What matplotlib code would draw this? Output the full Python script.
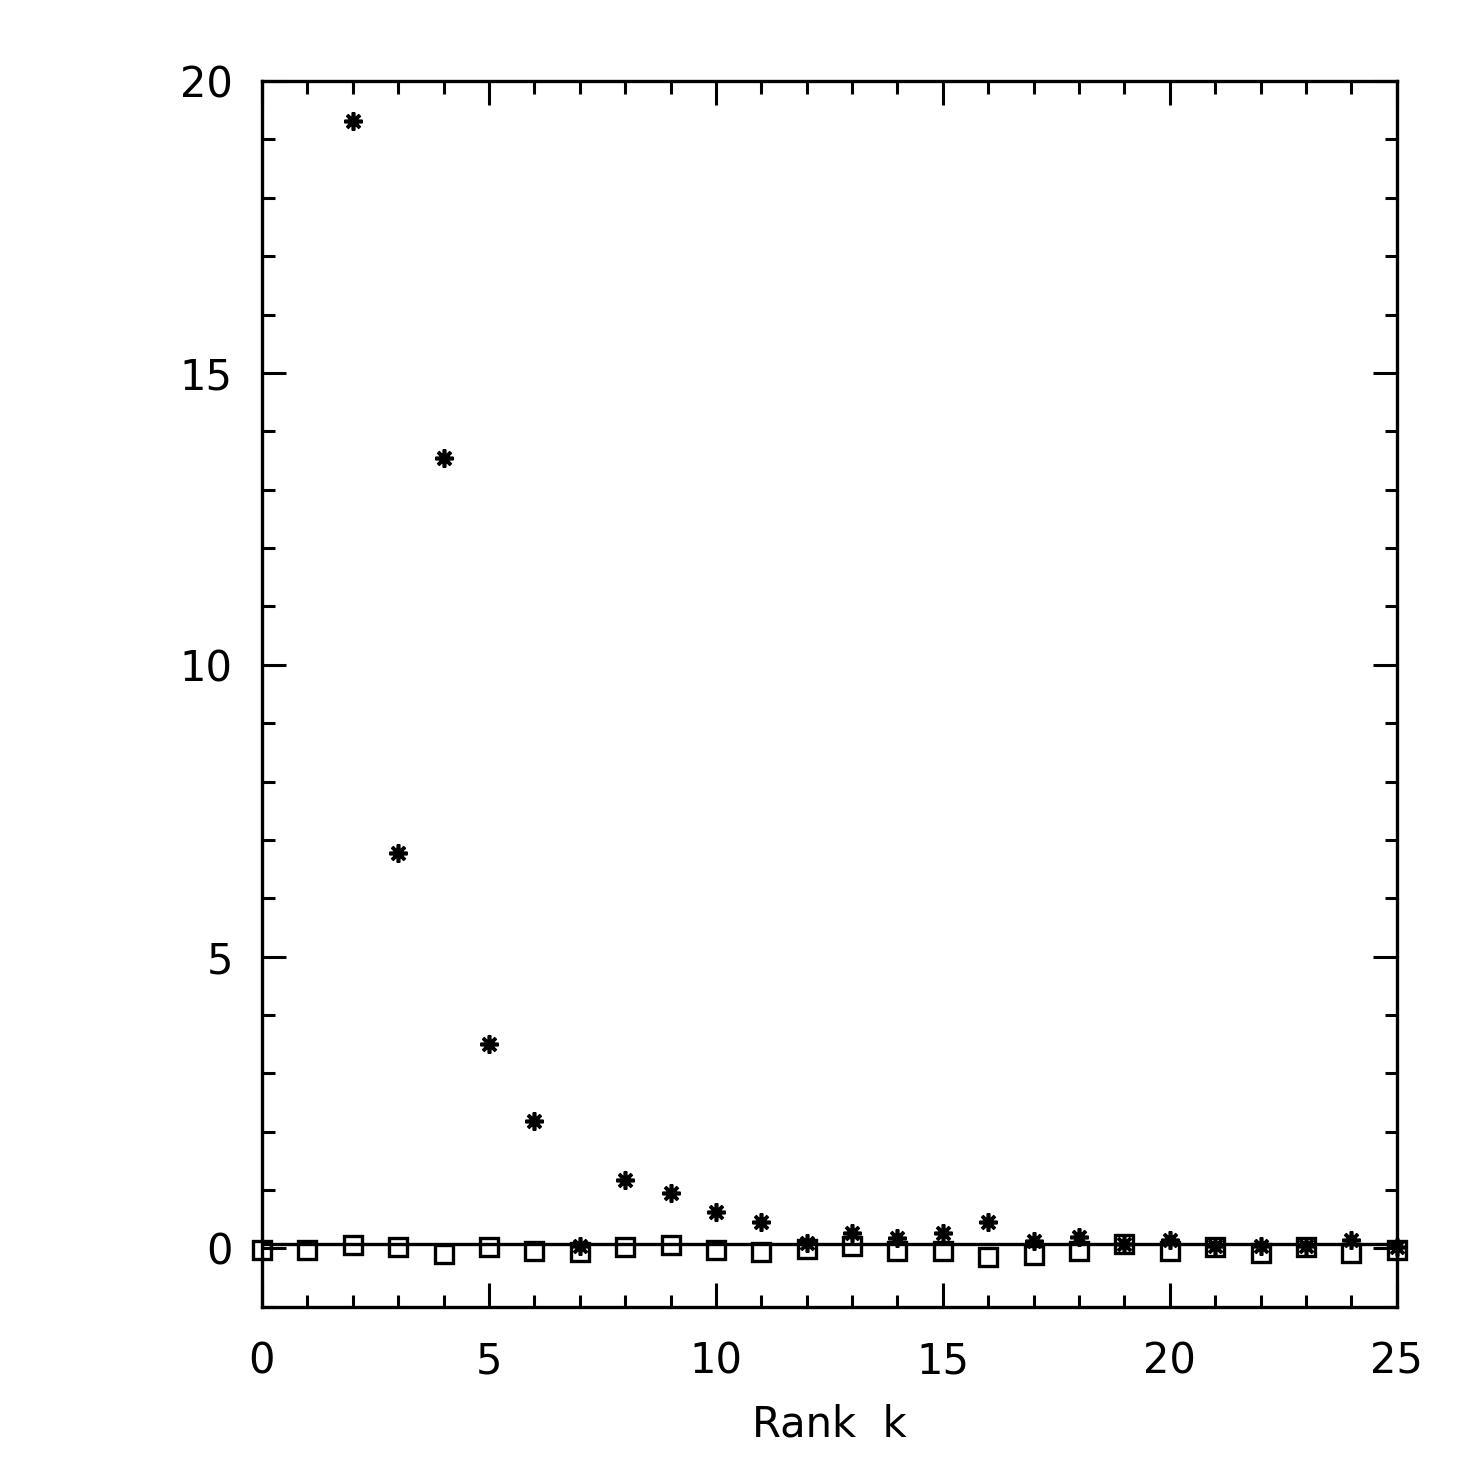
import numpy as np
import matplotlib
matplotlib.use("Agg")
import matplotlib.pyplot as plt

# rank k for each series
k_star = np.arange(2, 26)
star_vals = [19.32, 6.78, 13.54, 3.51, 2.18, 0.05, 1.17, 0.95, 0.63, 0.45,
             0.10, 0.26, 0.18, 0.26, 0.46, 0.12, 0.20, 0.07, 0.15, 0.05,
             0.05, 0.05, 0.15, 0.03]

k_square = np.arange(0, 26)
square_vals = [-0.02, -0.02, 0.06, 0.02, -0.10, 0.02, -0.05, -0.06, 0.03, 0.06,
               -0.02, -0.06, -0.01, 0.05, -0.05, -0.04, -0.15, -0.11, -0.04, 0.07,
               -0.04, 0.02, -0.08, 0.02, -0.08, -0.02]

ref_level = 0.07

plt.rcParams['font.family'] = ['DejaVu Sans']

fig = plt.figure(figsize=(14.75, 14.75), dpi=100)
ax = fig.add_axes([0.1776, 0.114, 0.947 - 0.1776, 0.945 - 0.114])

ax.plot([0, 25], [ref_level, ref_level], color='black', lw=2.4)
ax.plot(k_square, square_vals, linestyle='none', marker='s', ms=12.5,
        mfc='none', mec='black', mew=2.4, clip_on=False)
ax.plot(k_star, star_vals, linestyle='none', marker=(8, 2, 0), ms=13,
        mec='black', mew=2.6, clip_on=False)

ax.set_xlim(0, 25)
ax.set_ylim(-1, 20)
ax.set_xticks(np.arange(0, 26, 5))
ax.set_xticks(np.arange(0, 26, 1), minor=True)
ax.set_yticks(np.arange(0, 21, 5))
ax.set_yticks(np.arange(-1, 21, 1), minor=True)

ax.tick_params(which='both', direction='in', top=True, right=True,
               width=2.2, colors='black')
ax.tick_params(which='major', length=17, labelsize=30)
ax.tick_params(axis='x', which='major', pad=24)
ax.tick_params(axis='y', which='major', pad=21)
ax.tick_params(which='minor', length=9)
for s in ax.spines.values():
    s.set_linewidth(2.4)

ax.set_xlabel('Rank  k', fontsize=30, labelpad=15)

fig.savefig('out.png', dpi=100)
